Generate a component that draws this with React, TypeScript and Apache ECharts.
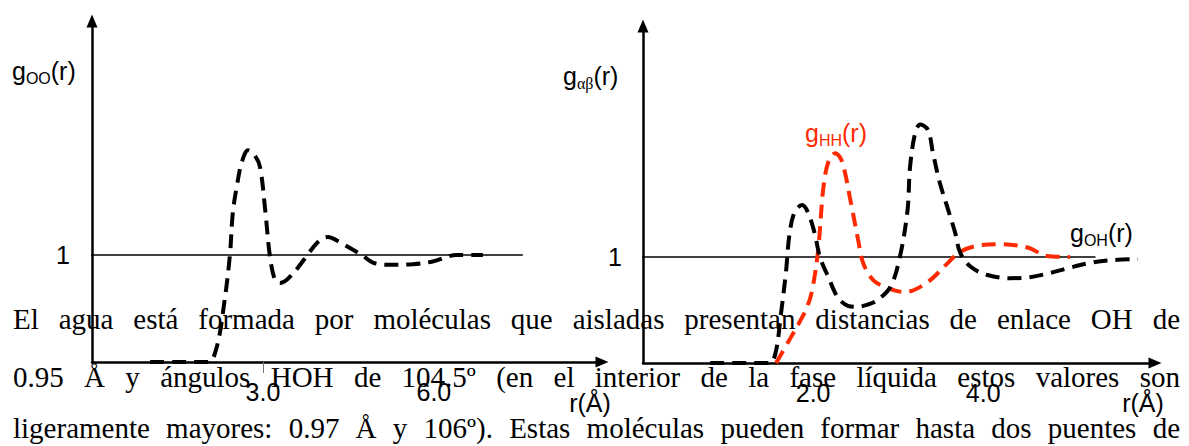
import React, { useEffect, useRef } from "react";
import * as echarts from "echarts";

// g_OO(r): oxygen–oxygen pair distribution (left panel)
const ooR = [1.02, 1.54, 2.04, 2.19, 2.33, 2.42, 2.47, 2.54, 2.63, 2.74, 2.86, 2.95, 3.04, 3.12, 3.21, 3.3, 3.42, 3.61, 3.82, 4.0, 4.14, 4.35, 4.58, 4.74, 4.93, 5.18, 5.63, 5.98, 6.4, 6.86];
const ooG = [0, 0, 0, 0.14, 0.59, 1.0, 1.39, 1.64, 1.87, 1.98, 1.93, 1.82, 1.42, 1.0, 0.77, 0.74, 0.77, 0.88, 1.03, 1.14, 1.17, 1.12, 1.05, 1.0, 0.93, 0.91, 0.915, 0.94, 1.0, 1.0];

// g_OH(r): oxygen–hydrogen pair distribution (right panel, black)
const ohR = [0.79, 1.14, 1.49, 1.56, 1.62, 1.68, 1.72, 1.78, 1.87, 1.94, 2.02, 2.08, 2.18, 2.29, 2.41, 2.52, 2.64, 2.75, 2.91, 3.02, 3.11, 3.14, 3.2, 3.26, 3.35, 3.41, 3.49, 3.59, 3.67, 3.73, 3.85, 4.05, 4.32, 4.55, 4.79, 5.02, 5.29, 5.49, 5.82];
const ohG = [0, 0, 0, 0.1, 0.45, 0.85, 1.2, 1.42, 1.49, 1.42, 1.22, 1.0, 0.81, 0.62, 0.54, 0.53, 0.55, 0.59, 0.72, 1.0, 1.44, 1.85, 2.17, 2.25, 2.2, 1.98, 1.7, 1.44, 1.23, 1.04, 0.91, 0.83, 0.8, 0.81, 0.85, 0.9, 0.95, 0.97, 0.98];

// g_HH(r): hydrogen–hydrogen pair distribution (right panel, red)
const hhR = [1.565, 1.73, 1.85, 1.93, 1.99, 2.06, 2.12, 2.18, 2.26, 2.34, 2.44, 2.53, 2.59, 2.71, 2.87, 3.08, 3.34, 3.58, 3.73, 3.96, 4.2, 4.52, 4.75, 5.02];
const hhG = [0, 0.23, 0.4, 0.53, 0.69, 1.07, 1.65, 1.9, 1.98, 1.9, 1.53, 1.16, 0.94, 0.78, 0.71, 0.67, 0.76, 0.94, 1.05, 1.11, 1.12, 1.09, 1.01, 1.0];

// reference level g = 1 (start/end r of the thin horizontal rule)
const levelLeft = [-0.44, 7.56];
const levelRight = [-0.2, 5.32];

// tick labels
const leftTicks = [3, 6];
const rightTicks = [2, 4];
const leftTickMarks = [3];
const yTicks = [1];

const paragraph = [
  "El agua está formada por moléculas que aisladas presentan distancias de enlace OH de",
  "0.95 Å y ángulos HOH de 104.5º (en el interior de la fase líquida estos valores son",
  "ligeramente mayores: 0.97 Å y 106º). Estas moléculas pueden formar hasta dos puentes de",
];

const SANS = "Liberation Sans";
const SERIF = "Liberation Serif";
const RED = "#ff2a00";

let measureCtx: CanvasRenderingContext2D | null = null;
function textWidth(text: string, size: number, family: string): number {
  if (!measureCtx) measureCtx = document.createElement("canvas").getContext("2d");
  measureCtx!.font = `${size}px '${family}'`;
  return measureCtx!.measureText(text).width;
}

// One title component holding a single run of text, top-left placed so its baseline sits on `baseline`
function run(text: string, x: number, baseline: number, size: number, family: string, color: string) {
  return {
    text,
    left: x,
    top: baseline - 0.82 * size,
    padding: 0,
    textStyle: { fontFamily: family, fontSize: size, fontWeight: "normal", color },
  };
}

type Piece = { t: string; size: number; family?: string; dy?: number };

// A label made of consecutive runs (main text and lowered subscripts) on one baseline
function subLabel(pieces: Piece[], x: number, baseline: number, color: string) {
  const out: any[] = [];
  let cx = x;
  for (const p of pieces) {
    const fam = p.family || SANS;
    out.push(run(p.t, cx, baseline + (p.dy || 0), p.size, fam, color));
    cx += textWidth(p.t, p.size, fam);
  }
  return out;
}

// Justified paragraph lines, one run per word
function justifiedParagraph(lines: string[], left: number, right: number, baselines: number[], size: number) {
  const out: any[] = [];
  lines.forEach((line, i) => {
    const words = line.split(" ");
    const widths = words.map((w) => textWidth(w, size, SERIF));
    const total = widths.reduce((a, b) => a + b, 0);
    const gap = (right - left - total) / (words.length - 1);
    let x = left;
    words.forEach((w, k) => {
      out.push(run(w, x, baselines[i], size, SERIF, "#000"));
      x += widths[k] + gap;
    });
  });
  return out;
}

const zip = (a: number[], b: number[]) => a.map((v, i) => [v, b[i]]);

const axisLineStyle = { color: "#000", width: 2.5 };

export default function App() {
  const ref = useRef<HTMLDivElement>(null);
  useEffect(() => {
    if (!ref.current) return;
    const chart = echarts.init(ref.current, null, { renderer: "svg" });
    const tickLabel = { fontSize: 25, color: "#000", fontFamily: SANS };
    const rW = textWidth("r(Å)", 25, SANS);
    const option: any = {
      animation: false,
      title: [
        ...justifiedParagraph(paragraph, 13, 1180, [328, 386, 437], 29),
        ...subLabel([{ t: "g", size: 25 }, { t: "OO", size: 16, dy: 5 }, { t: "(r)", size: 25 }], 12, 79, "#000"),
        ...subLabel([{ t: "g", size: 25 }, { t: "αβ", size: 16, family: SERIF, dy: 5 }, { t: "(r)", size: 25 }], 563, 84, "#000"),
        ...subLabel([{ t: "g", size: 25 }, { t: "HH", size: 16, dy: 5 }, { t: "(r)", size: 25 }], 805, 141, RED),
        ...subLabel([{ t: "g", size: 25 }, { t: "OH", size: 16, dy: 5 }, { t: "(r)", size: 25 }], 1070, 241, "#000"),
        run("r(Å)", 590 - rW / 2, 411, 25, SANS, "#000"),
        run("r(Å)", 1143 - rW / 2, 411, 25, SANS, "#000"),
      ],
      grid: [
        { left: 92, top: 21, width: 510, height: 341 },
        { left: 643, top: 26, width: 512, height: 337 },
      ],
      xAxis: [
        {
          gridIndex: 0, type: "value", min: 0, max: 8.95,
          axisLine: { show: true, onZero: false, lineStyle: axisLineStyle, symbol: ["none", "triangle"], symbolSize: [11, 13] },
          axisTick: { show: true, customValues: leftTickMarks, length: 11, lineStyle: { color: "#777", width: 1 } },
          axisLabel: { customValues: leftTicks, formatter: (v: number) => v.toFixed(1), margin: 17, ...tickLabel },
          splitLine: { show: false },
        },
        {
          gridIndex: 1, type: "value", min: 0, max: 6.02,
          axisLine: { show: true, onZero: false, lineStyle: axisLineStyle, symbol: ["none", "triangle"], symbolSize: [11, 13] },
          axisTick: { show: false },
          axisLabel: { customValues: rightTicks, formatter: (v: number) => v.toFixed(1), margin: 17, ...tickLabel },
          splitLine: { show: false },
        },
      ],
      yAxis: [
        {
          gridIndex: 0, type: "value", min: 0, max: 3.19,
          axisLine: { show: true, onZero: false, lineStyle: axisLineStyle, symbol: ["none", "triangle"], symbolSize: [11, 13] },
          axisTick: { show: false },
          axisLabel: { customValues: yTicks, formatter: () => "1", margin: 22, ...tickLabel },
          splitLine: { show: false },
        },
        {
          gridIndex: 1, type: "value", min: 0, max: 3.18,
          axisLine: { show: true, onZero: false, lineStyle: axisLineStyle, symbol: ["none", "triangle"], symbolSize: [11, 13] },
          axisTick: { show: false },
          axisLabel: { customValues: yTicks, formatter: () => "1", margin: 21, ...tickLabel },
          splitLine: { show: false },
        },
      ],
      series: [
        {
          type: "line", xAxisIndex: 0, yAxisIndex: 0, clip: false, symbol: "none", silent: true, z: 1,
          data: levelLeft.map((r) => [r, 1]),
          lineStyle: { color: "#000", width: 1.5 },
        },
        {
          type: "line", xAxisIndex: 1, yAxisIndex: 1, clip: false, symbol: "none", silent: true, z: 1,
          data: levelRight.map((r) => [r, 1]),
          lineStyle: { color: "#000", width: 1.5 },
        },
        {
          name: "gOO", type: "line", xAxisIndex: 0, yAxisIndex: 0, symbol: "none", smooth: 0.35, clip: false, z: 3,
          data: zip(ooR, ooG),
          lineStyle: { color: "#000", width: 4, type: [14, 8] },
        },
        {
          name: "gHH", type: "line", xAxisIndex: 1, yAxisIndex: 1, symbol: "none", smooth: 0.35, clip: false, z: 3,
          data: zip(hhR, hhG),
          lineStyle: { color: RED, width: 4, type: [14, 8] },
        },
        {
          name: "gOH", type: "line", xAxisIndex: 1, yAxisIndex: 1, symbol: "none", smooth: 0.35, clip: false, z: 4,
          data: zip(ohR, ohG),
          lineStyle: { color: "#000", width: 4, type: [14, 8] },
        },
      ],
    };
    chart.setOption(option);
    return () => chart.dispose();
  }, []);
  return <div ref={ref} style={{ position: "absolute", left: 0, top: 0, width: 1189, height: 446 }} />;
}
